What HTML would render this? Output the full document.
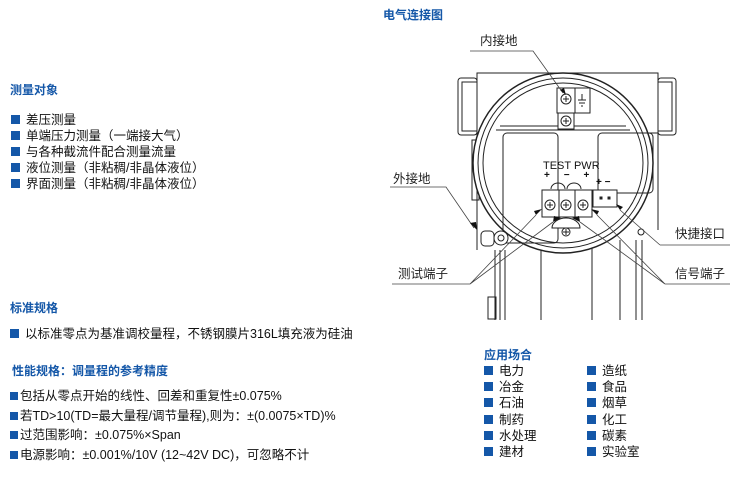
<!DOCTYPE html>
<html><head><meta charset="utf-8"><style>
body{margin:0;width:740px;height:488px;background:#fff;position:relative;overflow:hidden;font-family:"Liberation Sans","Noto Sans CJK SC",sans-serif;color:#111}
.a{position:absolute;white-space:nowrap}
.h{color:#1457a8;font-weight:bold;font-size:12px}
.t{font-size:12.5px;line-height:16px}
.sq{display:inline-block;width:9px;height:9px;background:#1457a8;margin-right:6px;vertical-align:-0px}
.sq2{display:inline-block;width:8px;height:8px;background:#1457a8;margin-right:2px}
.lb{font-size:12.5px;color:#222}
</style></head><body>
<div class="a h" style="left:383px;top:6px">电气连接图</div>
<div class="a h" style="left:10px;top:81px">测量对象</div>
<div class="a t" style="left:11px;top:112px">
<div><span class="sq"></span>差压测量</div>
<div><span class="sq"></span>单端压力测量（一端接大气）</div>
<div><span class="sq"></span>与各种截流件配合测量流量</div>
<div><span class="sq"></span>液位测量（非粘稠/非晶体液位）</div>
<div><span class="sq"></span>界面测量（非粘稠/非晶体液位）</div>
</div>
<div class="a h" style="left:10px;top:299px">标准规格</div>
<div class="a t" style="left:10px;top:326px"><span class="sq"></span>以标准零点为基准调校量程，不锈钢膜片316L填充液为硅油</div>
<div class="a h" style="left:12px;top:362px">性能规格：调量程的参考精度</div>
<div class="a t" style="left:10px;top:387px;line-height:19.6px">
<div><span class="sq2"></span>包括从零点开始的线性、回差和重复性±0.075%</div>
<div><span class="sq2"></span>若TD&gt;10(TD=最大量程/调节量程),则为：±(0.0075×TD)%</div>
<div><span class="sq2"></span>过范围影响：±0.075%×Span</div>
<div><span class="sq2"></span>电源影响：±0.001%/10V (12~42V DC)，可忽略不计</div>
</div>
<div class="a h" style="left:484px;top:346px">应用场合</div>
<div class="a t" style="left:484px;top:363px;line-height:16.2px">
<div><span class="sq"></span>电力</div><div><span class="sq"></span>冶金</div><div><span class="sq"></span>石油</div><div><span class="sq"></span>制药</div><div><span class="sq"></span>水处理</div><div><span class="sq"></span>建材</div>
</div>
<div class="a t" style="left:587px;top:363px;line-height:16.2px">
<div><span class="sq"></span>造纸</div><div><span class="sq"></span>食品</div><div><span class="sq"></span>烟草</div><div><span class="sq"></span>化工</div><div><span class="sq"></span>碳素</div><div><span class="sq"></span>实验室</div>
</div>
<svg class="a" style="left:0;top:0" width="740" height="488" viewBox="0 0 740 488" fill="none" stroke="#222" stroke-width="1">
<rect x="477" y="73" width="181" height="60" fill="#fff"/>
<rect x="458" y="78" width="19" height="57" rx="3" fill="#fff"/>
<rect x="462" y="82" width="15" height="49" fill="#fff"/>
<rect x="658" y="78" width="18" height="57" rx="3" fill="#fff"/>
<rect x="658" y="82" width="14" height="49" fill="#fff"/>
<path d="M477 133 V250 M658 133 V230"/>
<rect x="472" y="140" width="7" height="60"/>
<path d="M495 250 V320 M500 250 V320 M505 250 V320 M541 232 V320 M592 232 V320 M620 240 V320 M636 240 V320 M642 240 V320"/>
<rect x="488" y="297" width="8" height="22"/>
<circle cx="563" cy="163" r="90" fill="#fff" stroke-width="1.5"/>
<circle cx="563" cy="163" r="85"/>
<circle cx="563" cy="163" r="80"/>
<path d="M496 130 H630 M500 126 H626" />
<rect x="503" y="133" width="55" height="110" rx="4"/>
<rect x="598" y="133" width="55" height="60" rx="4"/>
<rect x="557" y="88" width="33" height="25" fill="#fff"/>
<line x1="575" y1="88" x2="575" y2="113"/>
<circle cx="566" cy="99" r="5"/><path d="M563 99h6M566 96v6"/>
<path d="M582 94v6M578 100h8M579 103h6M581 106h2"/>
<rect x="558" y="113" width="16" height="16" fill="#fff"/>
<circle cx="566" cy="121" r="5"/><path d="M563 121h6M566 118v6"/>
<path d="M552 228 a14 10 0 0 1 28 0 z" fill="#fff"/>
<circle cx="566" cy="232" r="4"/><path d="M563 232h6M566 229v6"/>
<rect x="542" y="190" width="17" height="27" fill="#fff"/>
<rect x="559" y="190" width="16" height="27" fill="#fff"/>
<rect x="575" y="190" width="17" height="27" fill="#fff"/>
<circle cx="550" cy="205" r="5"/><path d="M547 205h6M550 202v6"/>
<circle cx="566" cy="205" r="5"/><path d="M563 205h6M566 202v6"/>
<circle cx="583" cy="205" r="5"/><path d="M580 205h6M583 202v6"/>
<path d="M551 189 a7 6 0 0 1 14 0 M567 189 a7 6 0 0 1 14 0"/>
<rect x="593" y="190" width="24" height="17" fill="#fff"/>
<rect x="600" y="197" width="2" height="2" fill="#222"/><rect x="608" y="197" width="2" height="2" fill="#222"/>
<circle cx="501" cy="238" r="7" fill="#fff"/><circle cx="501" cy="238" r="3"/>
<rect x="481" y="231" width="13" height="15" rx="4" fill="#fff"/>
<circle cx="641" cy="232" r="3"/>
<g stroke="#444" stroke-width="0.8">
<path d="M470 51 H533 L563 93"/>
<path d="M390 187 H446 L474 228"/>
<path d="M660 245 H730 M660 245 L620 210"/>
<path d="M392 284 H470 L536 215 M470 284 L553 222"/>
<path d="M665 284 H730 M665 284 L597 215 M665 284 L580 222"/>
</g>
<g fill="#111" stroke="none">
<path d="M560 90 l6 5 l-2 -7z"/>
<path d="M470 223 l7 7 l-1 -8z"/>
<path d="M536 215 l6 -6 l-8 2z"/>
<path d="M553 222 l8 -4 l-7 -2z"/>
<path d="M580 222 l-8 -4 l7 -2z"/>
<path d="M597 215 l-6 -6 l8 2z"/>
<path d="M620 210 l-4 -6 l7 3z"/>
</g>
</svg>
<div class="a" style="left:543px;top:160px;font-size:11px;font-family:'Liberation Sans Narrow','Liberation Sans',sans-serif">TEST PWR</div>
<div class="a" style="left:544px;top:170px;font-size:10px;font-weight:bold">+&nbsp;&nbsp;&nbsp;&nbsp;&nbsp;−&nbsp;&nbsp;&nbsp;&nbsp;&nbsp;+</div>
<div class="a" style="left:596px;top:177px;font-size:10px;font-weight:bold">+ −</div>
<div class="a lb" style="left:480px;top:30px">内接地</div>
<div class="a lb" style="left:393px;top:168px">外接地</div>
<div class="a lb" style="left:675px;top:223px">快捷接口</div>
<div class="a lb" style="left:398px;top:263px">测试端子</div>
<div class="a lb" style="left:675px;top:263px">信号端子</div>
</body></html>
